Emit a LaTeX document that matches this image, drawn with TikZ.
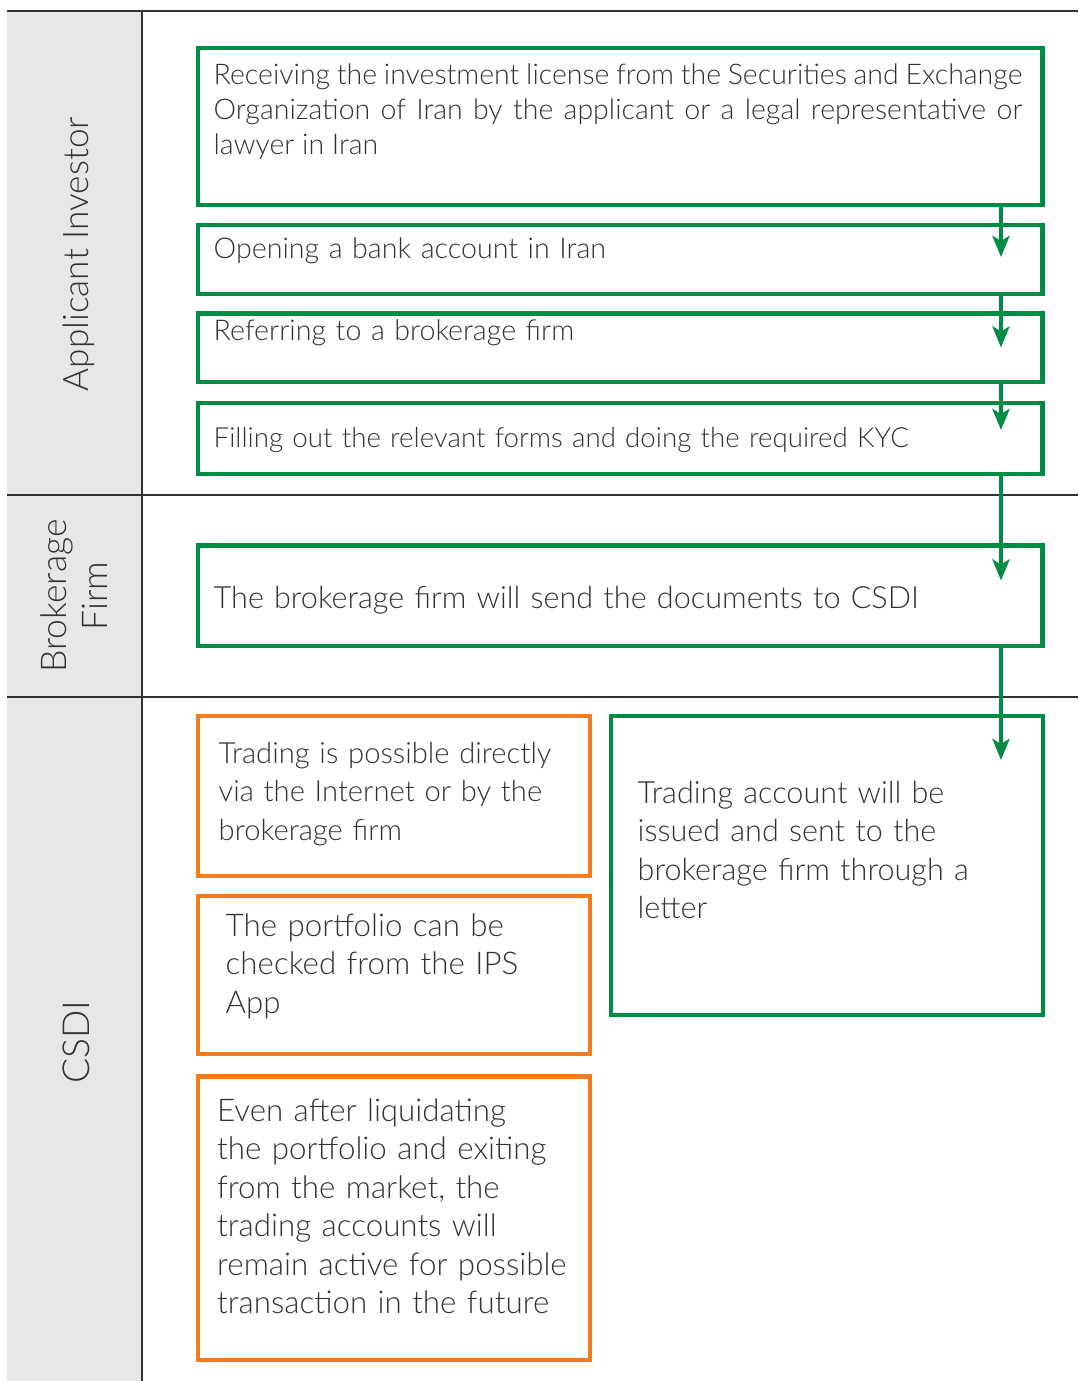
\documentclass[tikz,border=0pt]{standalone}
\usepackage{fontspec}
\setmainfont{Lato}[UprightFont={* Light}]
\usepackage{tikz}
\usetikzlibrary{arrows.meta}
\usetikzlibrary{calc}
\usetikzlibrary{positioning}
\definecolor{mgreen}{RGB}{0,140,68}
\definecolor{morange}{RGB}{244,124,32}
\definecolor{lanegray}{RGB}{230,231,232}
\definecolor{ink}{RGB}{50,50,50}
\tikzset{stepbox/.style = {draw=mgreen, line width=1.15pt, inner sep=0, outer sep=0,
                           anchor=north west}}
\tikzset{notebox/.style = {draw=morange, line width=1.15pt, inner sep=0, outer sep=0,
                           anchor=north west}}
\tikzset{flow/.style = {draw=mgreen, line width=1.15pt,
                        -{Stealth[length=2.1mm, width=1.7mm, inset=0.5mm]}}}
\tikzset{small/.style = {anchor=base west, inner sep=0, text=ink, text width=8.3cm,
                         align=left, font=\fontsize{#1}{9.96}\selectfont}}
\tikzset{large/.style = {anchor=base west, inner sep=0, text=ink, text width=4.3cm,
                         align=left, font=\fontsize{#1}{10.95}\selectfont}}
\tikzset{lane/.style = {rotate=90, anchor=base, inner sep=0, text=ink,
                        font=\fontsize{#1}{11.4}\selectfont}}
\tikzset{laneline/.style = {draw=ink, line width=0.6pt}}

\begin{document}
\begin{tikzpicture}[x=0.01cm, y=-0.01cm]
      \useasboundingbox (0, 0) rectangle (1078, 1381);
      % swim lanes
      \fill [lanegray] (7, 11) rectangle (142, 1381);
      \draw [laneline] (7, 11) -- (1078, 11);
      \draw [laneline] (7, 495) -- (1078, 495);
      \draw [laneline] (7, 697) -- (1078, 697);
      \draw [laneline] (142, 11) -- (142, 1381);
      \node [lane=10] (applicant) at (88, 254) {Applicant Investor};
      \node [lane=10.1, text width=3cm, align=center] (broker) at (67, 596) {Brokerage\\Firm};
      \node [lane=10.6] (csdi) at (90, 1042) {CSDI};
      % steps
      \node [stepbox, minimum width=8.44cm, minimum height=1.57cm] (b1) at (198, 48) {};
      \node [stepbox, minimum width=8.44cm, minimum height=0.69cm] (b2) at (198, 225) {};
      \node [stepbox, minimum width=8.44cm, minimum height=0.685cm] (b3) at (198, 313.5) {};
      \node [stepbox, minimum width=8.44cm, minimum height=0.71cm] (b4) at (198, 403) {};
      \node [stepbox, minimum width=8.44cm, minimum height=1.0cm] (b5) at (198, 545.5) {};
      \node [stepbox, minimum width=4.32cm, minimum height=2.99cm] (b6) at (611, 716) {};
      \node [notebox, minimum width=3.92cm, minimum height=1.6cm] (o1) at (198, 716) {};
      \node [notebox, minimum width=3.92cm, minimum height=1.58cm] (o2) at (198, 896) {};
      \node [notebox, minimum width=3.92cm, minimum height=2.835cm] (o3) at (198, 1076.5) {};
      \node [small=8.1, text width=8.08cm, align=justify] (t1) at (213, 84)
            {Receiving the investment license from the Securities and Exchange\linebreak
             Organization of Iran by the applicant or a legal representative or\linebreak
             lawyer in Iran};
      \node [small=8.14] (t2) at (213, 258) {Opening a bank account in Iran};
      \node [small=8.14] (t3) at (213, 340) {Referring to a brokerage firm};
      \node [small=7.87] (t4) at (213, 447) {Filling out the relevant forms and doing the required KYC};
      \node [small=8.7] (t5) at (213, 608) {The brokerage firm will send the documents to CSDI};
      \node [large=8.7] (t6) at (637, 803)
            {Trading account will be\\ issued and sent to the\\ brokerage firm through a\\ letter};
      \node [large=8.3] (n1) at (218, 763)
            {Trading is possible directly\\ via the Internet or by the\\ brokerage firm};
      \node [large=8.9] (n2) at (225, 936)
            {The portfolio can be\\ checked from the IPS\\ App};
      \node [large=8.9] (n3) at (216.5, 1121)
            {Even after liquidating\\ the portfolio and exiting\\ from the market, the\\
             trading accounts will\\ remain active for possible\\ transaction in the future};
      % flow
      \coordinate (ax) at (1001, 0);
      \draw [flow] (b1.south -| ax) -- ($(b2.north -| ax) + (0, 32)$);
      \draw [flow] (b2.south -| ax) -- ($(b3.north -| ax) + (0, 34)$);
      \draw [flow] (b3.south -| ax) -- ($(b4.north -| ax) + (0, 27)$);
      \draw [flow] (b4.south -| ax) -- ($(b5.north -| ax) + (0, 35)$);
      \draw [flow] (b5.south -| ax) -- ($(b6.north -| ax) + (0, 44)$);
    \end{tikzpicture}
\end{document}
